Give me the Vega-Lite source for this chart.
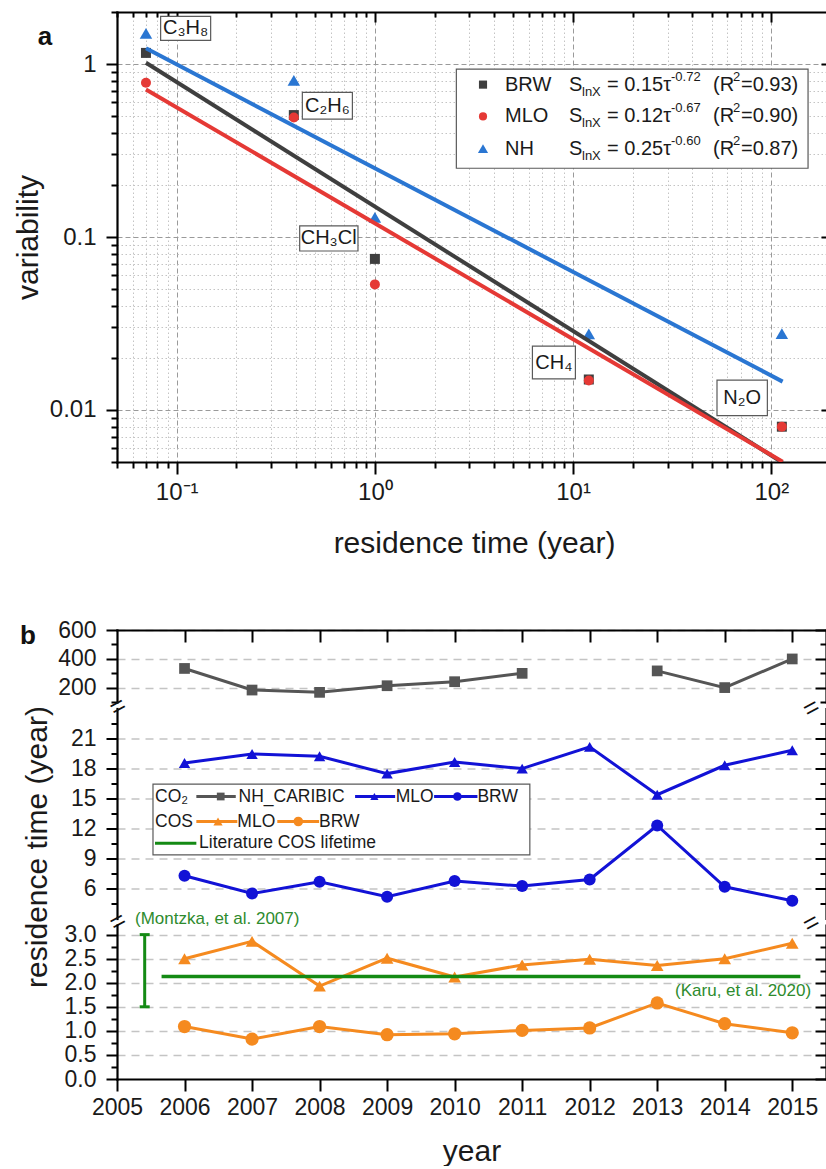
{
  "$schema": "https://vega.github.io/schema/vega-lite/v6.json",
  "background": "white",
  "padding": {"left": 13, "top": 0, "right": 0, "bottom": 0},
  "config": {
    "view": {"stroke": null},
    "font": "Liberation Sans",
    "text": {"font": "Liberation Sans"},
    "axis": {
      "labelFont": "Liberation Sans",
      "titleFont": "Liberation Sans",
      "labelColor": "#1a1a1a",
      "titleColor": "#1a1a1a",
      "titleFontWeight": "normal",
      "domainColor": "#000000",
      "tickColor": "#000000",
      "domainWidth": 2.2,
      "tickWidth": 2,
      "labelOverlap": false,
      "labelFlush": false,
      "domainCap": "square"
    }
  },
  "datasets": {
    "variability": [
      {"species": "C3H8", "tau": 0.07, "site": "BRW", "v": 1.16},
      {"species": "C2H6", "tau": 0.39, "site": "BRW", "v": 0.507},
      {"species": "CH3Cl", "tau": 1.0, "site": "BRW", "v": 0.0747},
      {"species": "CH4", "tau": 12, "site": "BRW", "v": 0.0150},
      {"species": "N2O", "tau": 113, "site": "BRW", "v": 0.0080},
      {"species": "C3H8", "tau": 0.07, "site": "MLO", "v": 0.78},
      {"species": "C2H6", "tau": 0.39, "site": "MLO", "v": 0.491},
      {"species": "CH3Cl", "tau": 1.0, "site": "MLO", "v": 0.0532},
      {"species": "CH4", "tau": 12, "site": "MLO", "v": 0.0148},
      {"species": "N2O", "tau": 113, "site": "MLO", "v": 0.0080},
      {"species": "C3H8", "tau": 0.07, "site": "NH", "v": 1.48},
      {"species": "C2H6", "tau": 0.39, "site": "NH", "v": 0.794},
      {"species": "CH3Cl", "tau": 1.0, "site": "NH", "v": 0.128},
      {"species": "CH4", "tau": 12, "site": "NH", "v": 0.0271},
      {"species": "N2O", "tau": 113, "site": "NH", "v": 0.0272}
    ],
    "fits": [
      {"site": "BRW", "tau": 0.07, "s": 1.0176},
      {"site": "BRW", "tau": 114, "s": 0.004956},
      {"site": "MLO", "tau": 0.07, "s": 0.7129},
      {"site": "MLO", "tau": 114, "s": 0.005024},
      {"site": "NH", "tau": 0.07, "s": 1.2328},
      {"site": "NH", "tau": 114, "s": 0.014583}
    ],
    "labels": [
      {"name": "C₃H₈", "x1": 0.0830, "x2": 0.1484, "y1": 1.889, "y2": 1.372, "xc": 0.1110, "yc": 1.61},
      {"name": "C₂H₆", "x1": 0.4305, "x2": 0.770, "y1": 0.686, "y2": 0.480, "xc": 0.576, "yc": 0.574},
      {"name": "CH₃Cl", "x1": 0.4174, "x2": 0.8217, "y1": 0.1159, "y2": 0.0830, "xc": 0.5845, "yc": 0.0981},
      {"name": "CH₄", "x1": 6.233, "x2": 10.27, "y1": 0.02339, "y2": 0.01512, "xc": 8.0, "yc": 0.0188},
      {"name": "N₂O", "x1": 53.2, "x2": 95.5, "y1": 0.01486, "y2": 0.00927, "xc": 71.3, "yc": 0.01173}
    ],
    "fitlegend": [
      {"site": "BRW", "ly": 0.7606, "eq": "= 0.15τ", "ex": "-0.72", "r2": "=0.93)"},
      {"site": "MLO", "ly": 0.498, "eq": "= 0.12τ", "ex": "-0.67", "r2": "=0.90)"},
      {"site": "NH", "ly": 0.3206, "eq": "= 0.25τ", "ex": "-0.60", "r2": "=0.87)"}
    ],
    "lifetimes": [
      {"year": 2006, "val": 333, "series": "CO2 NH_CARIBIC", "seg": "a"},
      {"year": 2007, "val": 183, "series": "CO2 NH_CARIBIC", "seg": "a"},
      {"year": 2008, "val": 167, "series": "CO2 NH_CARIBIC", "seg": "a"},
      {"year": 2009, "val": 213, "series": "CO2 NH_CARIBIC", "seg": "a"},
      {"year": 2010, "val": 241, "series": "CO2 NH_CARIBIC", "seg": "a"},
      {"year": 2011, "val": 299, "series": "CO2 NH_CARIBIC", "seg": "a"},
      {"year": 2013, "val": 316, "series": "CO2 NH_CARIBIC", "seg": "b"},
      {"year": 2014, "val": 200, "series": "CO2 NH_CARIBIC", "seg": "b"},
      {"year": 2015, "val": 399, "series": "CO2 NH_CARIBIC", "seg": "b"},
      {"year": 2006, "val": 18.55, "series": "CO2 MLO", "seg": "a"},
      {"year": 2007, "val": 19.45, "series": "CO2 MLO", "seg": "a"},
      {"year": 2008, "val": 19.22, "series": "CO2 MLO", "seg": "a"},
      {"year": 2009, "val": 17.49, "series": "CO2 MLO", "seg": "a"},
      {"year": 2010, "val": 18.65, "series": "CO2 MLO", "seg": "a"},
      {"year": 2011, "val": 17.99, "series": "CO2 MLO", "seg": "a"},
      {"year": 2012, "val": 20.16, "series": "CO2 MLO", "seg": "a"},
      {"year": 2013, "val": 15.38, "series": "CO2 MLO", "seg": "a"},
      {"year": 2014, "val": 18.32, "series": "CO2 MLO", "seg": "a"},
      {"year": 2015, "val": 19.83, "series": "CO2 MLO", "seg": "a"},
      {"year": 2006, "val": 7.27, "series": "CO2 BRW", "seg": "a"},
      {"year": 2007, "val": 5.5, "series": "CO2 BRW", "seg": "a"},
      {"year": 2008, "val": 6.67, "series": "CO2 BRW", "seg": "a"},
      {"year": 2009, "val": 5.17, "series": "CO2 BRW", "seg": "a"},
      {"year": 2010, "val": 6.74, "series": "CO2 BRW", "seg": "a"},
      {"year": 2011, "val": 6.24, "series": "CO2 BRW", "seg": "a"},
      {"year": 2012, "val": 6.9, "series": "CO2 BRW", "seg": "a"},
      {"year": 2013, "val": 12.3, "series": "CO2 BRW", "seg": "a"},
      {"year": 2014, "val": 6.17, "series": "CO2 BRW", "seg": "a"},
      {"year": 2015, "val": 4.77, "series": "CO2 BRW", "seg": "a"},
      {"year": 2006, "val": 2.5, "series": "COS MLO", "seg": "a"},
      {"year": 2007, "val": 2.86, "series": "COS MLO", "seg": "a"},
      {"year": 2008, "val": 1.93, "series": "COS MLO", "seg": "a"},
      {"year": 2009, "val": 2.51, "series": "COS MLO", "seg": "a"},
      {"year": 2010, "val": 2.12, "series": "COS MLO", "seg": "a"},
      {"year": 2011, "val": 2.37, "series": "COS MLO", "seg": "a"},
      {"year": 2012, "val": 2.49, "series": "COS MLO", "seg": "a"},
      {"year": 2013, "val": 2.36, "series": "COS MLO", "seg": "a"},
      {"year": 2014, "val": 2.5, "series": "COS MLO", "seg": "a"},
      {"year": 2015, "val": 2.82, "series": "COS MLO", "seg": "a"},
      {"year": 2006, "val": 1.09, "series": "COS BRW", "seg": "a"},
      {"year": 2007, "val": 0.83, "series": "COS BRW", "seg": "a"},
      {"year": 2008, "val": 1.09, "series": "COS BRW", "seg": "a"},
      {"year": 2009, "val": 0.92, "series": "COS BRW", "seg": "a"},
      {"year": 2010, "val": 0.94, "series": "COS BRW", "seg": "a"},
      {"year": 2011, "val": 1.01, "series": "COS BRW", "seg": "a"},
      {"year": 2012, "val": 1.06, "series": "COS BRW", "seg": "a"},
      {"year": 2013, "val": 1.58, "series": "COS BRW", "seg": "a"},
      {"year": 2014, "val": 1.15, "series": "COS BRW", "seg": "a"},
      {"year": 2015, "val": 0.96, "series": "COS BRW", "seg": "a"}
    ],
    "keysamples": [
      {"series": "CO2 NH_CARIBIC", "x1": 2006.175, "x2": 2006.759, "xm": 2006.536, "y": 15.2},
      {"series": "CO2 MLO", "x1": 2008.526, "x2": 2009.119, "xm": 2008.812, "y": 15.2},
      {"series": "CO2 BRW", "x1": 2009.696, "x2": 2010.338, "xm": 2010.041, "y": 15.2},
      {"series": "COS MLO", "x1": 2006.175, "x2": 2006.782, "xm": 2006.496, "y": 12.7},
      {"series": "COS BRW", "x1": 2007.374, "x2": 2007.993, "xm": 2007.685, "y": 12.7},
      {"series": "Literature", "x1": 2005.563, "x2": 2006.175, "xm": null, "y": 10.53}
    ],
    "keytext": [
      {"t": "CO₂", "x": 2005.563, "y": 15.2},
      {"t": "NH_CARIBIC", "x": 2006.80, "y": 15.2},
      {"t": "MLO", "x": 2009.128, "y": 15.2},
      {"t": "BRW", "x": 2010.338, "y": 15.2},
      {"t": "COS", "x": 2005.563, "y": 12.7},
      {"t": "MLO", "x": 2006.782, "y": 12.7},
      {"t": "BRW", "x": 2007.993, "y": 12.7},
      {"t": "Literature COS lifetime", "x": 2006.215, "y": 10.53}
    ]
  },
  "resolve": {"scale": {"color": "independent", "shape": "independent", "size": "independent", "x": "independent", "y": "independent"}},
  "spacing": 168,
  "bounds": "flush",
  "vconcat": [
    {
      "width": 714,
      "height": 450,
      "resolve": {"axis": {"x": "independent", "y": "independent"}, "scale": {"size": "independent"}},
      "layer": [
        {
          "data": {"name": "variability"},
          "mark": {"type": "point", "filled": true, "opacity": 1, "strokeWidth": 0, "size": 100},
          "encoding": {
            "x": {
              "field": "tau", "type": "quantitative",
              "scale": {"type": "log", "domain": [0.05, 200], "nice": false},
              "axis": {
                "orient": "bottom",
                "title": "residence time (year)",
                "values": [0.05, 0.06, 0.07, 0.08, 0.09, 0.1, 0.2, 0.3, 0.4, 0.5, 0.6, 0.7, 0.8, 0.9, 1, 2, 3, 4, 5, 6, 7, 8, 9, 10, 20, 30, 40, 50, 60, 70, 80, 90, 100, 200],
                "labelExpr": "datum.value > 0.09 && datum.value < 0.11 ? '10⁻¹' : datum.value > 0.9 && datum.value < 1.1 ? '10⁰' : datum.value > 9 && datum.value < 11 ? '10¹' : datum.value > 90 && datum.value < 110 ? '10²' : ''",
                "labelFontSize": 24,
                "labelPadding": 6,
                "tickSize": {"condition": {"test": "abs(log(datum.value)/LN10 - round(log(datum.value)/LN10)) < 0.001", "value": 12}, "value": 6},
                "grid": true,
                "gridWidth": 1,
                "gridColor": {"condition": {"test": "abs(log(datum.value)/LN10 - round(log(datum.value)/LN10)) < 0.001", "value": "#9a9a9a"}, "value": "#c4c4c4"},
                "gridDash": {"condition": {"test": "abs(log(datum.value)/LN10 - round(log(datum.value)/LN10)) < 0.001", "value": [5, 3]}, "value": [1.5, 2.5]},
                "titleFontSize": 30,
                "titleY": 90,
                "titleBaseline": "alphabetic"
              }
            },
            "y": {
              "field": "v", "type": "quantitative",
              "scale": {"type": "log", "domain": [0.005, 2], "nice": false},
              "axis": {
                "orient": "left",
                "title": "variability",
                "values": [0.005, 0.006, 0.007, 0.008, 0.009, 0.01, 0.02, 0.03, 0.04, 0.05, 0.06, 0.07, 0.08, 0.09, 0.1, 0.2, 0.3, 0.4, 0.5, 0.6, 0.7, 0.8, 0.9, 1, 2],
                "labelExpr": "datum.value > 0.0099 && datum.value < 0.0101 ? '0.01' : datum.value > 0.099 && datum.value < 0.101 ? '0.1' : datum.value > 0.99 && datum.value < 1.01 ? '1' : ''",
                "labelFontSize": 24,
                "labelPadding": 10,
                "tickSize": {"condition": {"test": "abs(log(datum.value)/LN10 - round(log(datum.value)/LN10)) < 0.001", "value": 11}, "value": 6},
                "grid": true,
                "gridWidth": 1,
                "gridColor": {"condition": {"test": "abs(log(datum.value)/LN10 - round(log(datum.value)/LN10)) < 0.001", "value": "#9a9a9a"}, "value": "#c4c4c4"},
                "gridDash": {"condition": {"test": "abs(log(datum.value)/LN10 - round(log(datum.value)/LN10)) < 0.001", "value": [5, 3]}, "value": [1.5, 2.5]},
                "titleFontSize": 30,
                "titleX": -80,
                "titleBaseline": "alphabetic"
              }
            },
            "color": {"field": "site", "type": "nominal", "scale": {"domain": ["BRW", "MLO", "NH"], "range": ["#3f3f3f", "#e53935", "#2a76d2"]}, "legend": null},
            "shape": {"field": "site", "type": "nominal", "scale": {"domain": ["BRW", "MLO", "NH"], "range": ["square", "circle", "M0,-1.3L1.25,0.85L-1.25,0.85Z"]}, "legend": null}
          }
        },
        {
          "data": {"name": "fits"},
          "mark": {"type": "line", "strokeWidth": 4, "clip": true},
          "encoding": {
            "x": {
              "field": "tau", "type": "quantitative",
              "scale": {"type": "log", "domain": [0.05, 200], "nice": false},
              "axis": {
                "orient": "top", "title": null, "labels": false, "grid": false,
                "values": [0.05, 0.06, 0.07, 0.08, 0.09, 0.1, 0.2, 0.3, 0.4, 0.5, 0.6, 0.7, 0.8, 0.9, 1, 2, 3, 4, 5, 6, 7, 8, 9, 10, 20, 30, 40, 50, 60, 70, 80, 90, 100, 200],
                "tickSize": {"condition": {"test": "abs(log(datum.value)/LN10 - round(log(datum.value)/LN10)) < 0.001", "value": -10}, "value": -5}
              }
            },
            "y": {
              "field": "s", "type": "quantitative",
              "scale": {"type": "log", "domain": [0.005, 2], "nice": false},
              "axis": {
                "orient": "right", "title": null, "labels": false, "grid": false,
                "values": [0.005, 0.006, 0.007, 0.008, 0.009, 0.01, 0.02, 0.03, 0.04, 0.05, 0.06, 0.07, 0.08, 0.09, 0.1, 0.2, 0.3, 0.4, 0.5, 0.6, 0.7, 0.8, 0.9, 1, 2],
                "tickSize": {"condition": {"test": "abs(log(datum.value)/LN10 - round(log(datum.value)/LN10)) < 0.001", "value": -10}, "value": -5}
              }
            },
            "color": {"field": "site", "type": "nominal", "scale": {"domain": ["BRW", "MLO", "NH"], "range": ["#3f3f3f", "#e53935", "#2a76d2"]}, "legend": null}
          }
        },
        {
          "data": {"name": "labels"},
          "mark": {"type": "rect", "fill": "white", "stroke": "#5a5a5a", "strokeWidth": 1.2},
          "encoding": {
            "x": {"field": "x1", "type": "quantitative", "axis": null},
            "x2": {"field": "x2"},
            "y": {"field": "y1", "type": "quantitative", "axis": null},
            "y2": {"field": "y2"}
          }
        },
        {
          "data": {"name": "labels"},
          "mark": {"type": "text", "fontSize": 20, "align": "center", "baseline": "middle", "color": "#1a1a1a", "font": "Liberation Sans, DejaVu Sans"},
          "encoding": {
            "x": {"field": "xc", "type": "quantitative", "axis": null},
            "y": {"field": "yc", "type": "quantitative", "axis": null},
            "text": {"field": "name"}
          }
        },
        {
          "data": {"values": [{"box": "fit legend"}]},
          "mark": {"type": "rect", "fill": "white", "stroke": "#5a5a5a", "strokeWidth": 1.2},
          "encoding": {
            "x": {"datum": 2.576, "type": "quantitative", "axis": null},
            "x2": {"datum": 153.2},
            "y": {"datum": 0.9356, "type": "quantitative", "axis": null},
            "y2": {"datum": 0.2498}
          }
        },
        {
          "data": {"name": "fitlegend"},
          "mark": {"type": "point", "filled": true, "opacity": 1, "strokeWidth": 0, "size": 66},
          "encoding": {
            "x": {"datum": 3.511, "type": "quantitative", "axis": null},
            "y": {"field": "ly", "type": "quantitative", "axis": null},
            "color": {"field": "site", "type": "nominal", "scale": {"domain": ["BRW", "MLO", "NH"], "range": ["#3f3f3f", "#e53935", "#2a76d2"]}, "legend": null},
            "shape": {"field": "site", "type": "nominal", "scale": {"domain": ["BRW", "MLO", "NH"], "range": ["square", "circle", "M0,-1.3L1.25,0.85L-1.25,0.85Z"]}, "legend": null}
          }
        },
        {
          "data": {"name": "fitlegend"},
          "mark": {"type": "text", "fontSize": 20, "align": "left", "baseline": "middle", "dx": 22, "color": "#1a1a1a"},
          "encoding": {
            "x": {"datum": 3.511, "type": "quantitative", "axis": null},
            "y": {"field": "ly", "type": "quantitative", "axis": null},
            "text": {"field": "site"}
          }
        },
        {
          "data": {"name": "fitlegend"},
          "mark": {"type": "text", "fontSize": 20, "align": "left", "baseline": "middle", "dx": 86, "color": "#1a1a1a"},
          "encoding": {
            "x": {"datum": 3.511, "type": "quantitative", "axis": null},
            "y": {"field": "ly", "type": "quantitative", "axis": null},
            "text": {"value": "S"}
          }
        },
        {
          "data": {"name": "fitlegend"},
          "mark": {"type": "text", "fontSize": 13, "align": "left", "baseline": "middle", "dx": 99, "dy": 7, "color": "#1a1a1a"},
          "encoding": {
            "x": {"datum": 3.511, "type": "quantitative", "axis": null},
            "y": {"field": "ly", "type": "quantitative", "axis": null},
            "text": {"value": "lnX"}
          }
        },
        {
          "data": {"name": "fitlegend"},
          "mark": {"type": "text", "fontSize": 20, "align": "left", "baseline": "middle", "dx": 124, "color": "#1a1a1a"},
          "encoding": {
            "x": {"datum": 3.511, "type": "quantitative", "axis": null},
            "y": {"field": "ly", "type": "quantitative", "axis": null},
            "text": {"field": "eq"}
          }
        },
        {
          "data": {"name": "fitlegend"},
          "mark": {"type": "text", "fontSize": 13, "align": "left", "baseline": "middle", "dx": 188, "dy": -8, "color": "#1a1a1a"},
          "encoding": {
            "x": {"datum": 3.511, "type": "quantitative", "axis": null},
            "y": {"field": "ly", "type": "quantitative", "axis": null},
            "text": {"field": "ex"}
          }
        },
        {
          "data": {"name": "fitlegend"},
          "mark": {"type": "text", "fontSize": 20, "align": "left", "baseline": "middle", "dx": 230, "color": "#1a1a1a"},
          "encoding": {
            "x": {"datum": 3.511, "type": "quantitative", "axis": null},
            "y": {"field": "ly", "type": "quantitative", "axis": null},
            "text": {"value": "(R"}
          }
        },
        {
          "data": {"name": "fitlegend"},
          "mark": {"type": "text", "fontSize": 13, "align": "left", "baseline": "middle", "dx": 250, "dy": -8, "color": "#1a1a1a"},
          "encoding": {
            "x": {"datum": 3.511, "type": "quantitative", "axis": null},
            "y": {"field": "ly", "type": "quantitative", "axis": null},
            "text": {"value": "2"}
          }
        },
        {
          "data": {"name": "fitlegend"},
          "mark": {"type": "text", "fontSize": 20, "align": "left", "baseline": "middle", "dx": 258, "color": "#1a1a1a"},
          "encoding": {
            "x": {"datum": 3.511, "type": "quantitative", "axis": null},
            "y": {"field": "ly", "type": "quantitative", "axis": null},
            "text": {"field": "r2"}
          }
        },
        {
          "data": {"values": [{"t": "a"}]},
          "mark": {"type": "text", "fontSize": 26, "fontWeight": "bold", "align": "center", "baseline": "middle", "dx": -72, "color": "#111111"},
          "encoding": {
            "x": {"datum": 0.05, "type": "quantitative", "axis": null},
            "y": {"datum": 1.437, "type": "quantitative", "axis": null},
            "text": {"field": "t"}
          }
        }
      ]
    },
    {
      "spacing": 6.5,
      "bounds": "flush",
      "resolve": {"scale": {"color": "independent", "shape": "independent", "size": "independent", "x": "independent", "y": "independent"}},
      "vconcat": [
        {
          "width": 709,
          "height": 72,
          "data": {"name": "lifetimes"},
          "resolve": {"axis": {"x": "independent", "y": "independent"}},
          "layer": [
            {
              "transform": [{"filter": "datum.series == 'CO2 NH_CARIBIC'"}],
              "mark": {"type": "line", "strokeWidth": 3},
              "encoding": {
                "x": {
                  "field": "year", "type": "quantitative",
                  "scale": {"domain": [2005, 2015.5], "nice": false, "zero": false},
                  "axis": {"orient": "top", "title": null, "labels": false, "grid": false, "values": [2006, 2007, 2008, 2009, 2010, 2011, 2012, 2013, 2014, 2015], "tickSize": -12}
                },
                "y": {
                  "field": "val", "type": "quantitative",
                  "scale": {"domain": [100, 600], "nice": false, "zero": false},
                  "axis": {
                    "orient": "left", "title": null,
                    "values": [100, 200, 300, 400, 500, 600],
                    "labelExpr": "datum.value % 200 == 0 ? datum.label : ''",
                    "labelFontSize": 23, "labelPadding": 10,
                    "tickSize": {"condition": {"test": "datum.value % 200 == 0", "value": 11}, "value": 6},
                    "grid": true, "gridColor": "#c4c4c4", "gridWidth": 1.5, "gridDash": [8, 6],
                    "gridOpacity": {"condition": {"test": "datum.value % 200 == 0", "value": 1}, "value": 0}
                  }
                },
                "color": {"field": "series", "type": "nominal", "scale": {"domain": ["CO2 NH_CARIBIC", "CO2 MLO", "CO2 BRW", "COS MLO", "COS BRW", "Literature"], "range": ["#555555", "#1212d6", "#1212d6", "#f58a1f", "#f58a1f", "#148a14"]}, "legend": null},
                "detail": {"field": "seg"}
              }
            },
            {
              "transform": [{"filter": "datum.series == 'CO2 NH_CARIBIC'"}],
              "mark": {"type": "point", "filled": true, "opacity": 1, "size": 115, "strokeWidth": 0},
              "encoding": {
                "x": {"field": "year", "type": "quantitative", "scale": {"domain": [2005, 2015.5], "nice": false, "zero": false}, "axis": null},
                "y": {
                  "field": "val", "type": "quantitative",
                  "scale": {"domain": [100, 600], "nice": false, "zero": false},
                  "axis": {
                    "orient": "right", "title": null, "labels": false, "grid": false,
                    "values": [100, 200, 300, 400, 500, 600],
                    "tickSize": {"condition": {"test": "datum.value % 200 == 0", "value": -11}, "value": -6}
                  }
                },
                "color": {"field": "series", "type": "nominal", "scale": {"domain": ["CO2 NH_CARIBIC", "CO2 MLO", "CO2 BRW", "COS MLO", "COS BRW", "Literature"], "range": ["#555555", "#1212d6", "#1212d6", "#f58a1f", "#f58a1f", "#148a14"]}, "legend": null},
                "shape": {"field": "series", "type": "nominal", "scale": {"domain": ["CO2 NH_CARIBIC", "CO2 MLO", "CO2 BRW", "COS MLO", "COS BRW", "Literature"], "range": ["square", "triangle-up", "circle", "triangle-up", "circle", "circle"]}, "legend": null}
              }
            },
            {
              "data": {"values": [{"t": "b"}]},
              "mark": {"type": "text", "fontSize": 26, "fontWeight": "bold", "align": "center", "baseline": "middle", "dx": -89, "color": "#111111"},
              "encoding": {
                "x": {"datum": 2005, "type": "quantitative", "axis": null},
                "y": {"datum": 558, "type": "quantitative", "axis": null},
                "text": {"field": "t"}
              }
            }
          ]
        },
        {
          "width": 709,
          "height": 210,
          "data": {"name": "lifetimes"},
          "resolve": {"axis": {"x": "independent", "y": "independent"}, "scale": {"size": "independent"}},
          "layer": [
            {
              "transform": [{"filter": "datum.series == 'CO2 MLO' || datum.series == 'CO2 BRW'"}],
              "mark": {"type": "line", "strokeWidth": 3},
              "encoding": {
                "x": {"field": "year", "type": "quantitative", "scale": {"domain": [2005, 2015.5], "nice": false, "zero": false}, "axis": null},
                "y": {
                  "field": "val", "type": "quantitative",
                  "scale": {"domain": [3, 24], "nice": false, "zero": false},
                  "axis": {
                    "orient": "left",
                    "title": "residence time (year)",
                    "titleFontSize": 30, "titleX": -71, "titleY": 138, "titleAlign": "center", "titleBaseline": "alphabetic",
                    "values": [4.5, 6, 7.5, 9, 10.5, 12, 13.5, 15, 16.5, 18, 19.5, 21, 22.5],
                    "labelExpr": "datum.value % 3 == 0 ? datum.label : ''",
                    "labelFontSize": 23, "labelPadding": 10,
                    "tickSize": {"condition": {"test": "datum.value % 3 == 0", "value": 11}, "value": 6},
                    "grid": true, "gridColor": "#c4c4c4", "gridWidth": 1.5, "gridDash": [8, 6],
                    "gridOpacity": {"condition": {"test": "datum.value % 3 == 0", "value": 1}, "value": 0}
                  }
                },
                "color": {"field": "series", "type": "nominal", "scale": {"domain": ["CO2 NH_CARIBIC", "CO2 MLO", "CO2 BRW", "COS MLO", "COS BRW", "Literature"], "range": ["#555555", "#1212d6", "#1212d6", "#f58a1f", "#f58a1f", "#148a14"]}, "legend": null}
              }
            },
            {
              "transform": [{"filter": "datum.series == 'CO2 MLO' || datum.series == 'CO2 BRW'"}],
              "mark": {"type": "point", "filled": true, "opacity": 1, "strokeWidth": 0},
              "encoding": {
                "x": {"field": "year", "type": "quantitative", "scale": {"domain": [2005, 2015.5], "nice": false, "zero": false}, "axis": null},
                "y": {
                  "field": "val", "type": "quantitative",
                  "scale": {"domain": [3, 24], "nice": false, "zero": false},
                  "axis": {
                    "orient": "right", "title": null, "labels": false, "grid": false,
                    "values": [4.5, 6, 7.5, 9, 10.5, 12, 13.5, 15, 16.5, 18, 19.5, 21, 22.5],
                    "tickSize": {"condition": {"test": "datum.value % 3 == 0", "value": -11}, "value": -6}
                  }
                },
                "color": {"field": "series", "type": "nominal", "scale": {"domain": ["CO2 NH_CARIBIC", "CO2 MLO", "CO2 BRW", "COS MLO", "COS BRW", "Literature"], "range": ["#555555", "#1212d6", "#1212d6", "#f58a1f", "#f58a1f", "#148a14"]}, "legend": null},
                "shape": {"field": "series", "type": "nominal", "scale": {"domain": ["CO2 NH_CARIBIC", "CO2 MLO", "CO2 BRW", "COS MLO", "COS BRW", "Literature"], "range": ["square", "triangle-up", "circle", "triangle-up", "circle", "circle"]}, "legend": null},
                "size": {"field": "series", "type": "nominal", "scale": {"domain": ["CO2 NH_CARIBIC", "CO2 MLO", "CO2 BRW", "COS MLO", "COS BRW", "Literature"], "range": [115, 190, 115, 190, 115, 115]}, "legend": null}
              }
            },
            {
              "data": {"values": [{"box": "series key"}]},
              "mark": {"type": "rect", "fill": "white", "stroke": "#5a5a5a", "strokeWidth": 1.2},
              "encoding": {
                "x": {"datum": 2005.533, "type": "quantitative", "axis": null},
                "x2": {"datum": 2011.114},
                "y": {"datum": 16.43, "type": "quantitative", "axis": null},
                "y2": {"datum": 9.37}
              }
            },
            {
              "data": {"name": "keysamples"},
              "mark": {"type": "rule", "strokeWidth": 3},
              "encoding": {
                "x": {"field": "x1", "type": "quantitative", "axis": null},
                "x2": {"field": "x2"},
                "y": {"field": "y", "type": "quantitative", "axis": null},
                "color": {"field": "series", "type": "nominal", "scale": {"domain": ["CO2 NH_CARIBIC", "CO2 MLO", "CO2 BRW", "COS MLO", "COS BRW", "Literature"], "range": ["#555555", "#1212d6", "#1212d6", "#f58a1f", "#f58a1f", "#148a14"]}, "legend": null}
              }
            },
            {
              "data": {"name": "keysamples"},
              "transform": [{"filter": "isValid(datum.xm)"}],
              "mark": {"type": "point", "filled": true, "opacity": 1, "strokeWidth": 0},
              "encoding": {
                "x": {"field": "xm", "type": "quantitative", "axis": null},
                "y": {"field": "y", "type": "quantitative", "axis": null},
                "color": {"field": "series", "type": "nominal", "scale": {"domain": ["CO2 NH_CARIBIC", "CO2 MLO", "CO2 BRW", "COS MLO", "COS BRW", "Literature"], "range": ["#555555", "#1212d6", "#1212d6", "#f58a1f", "#f58a1f", "#148a14"]}, "legend": null},
                "shape": {"field": "series", "type": "nominal", "scale": {"domain": ["CO2 NH_CARIBIC", "CO2 MLO", "CO2 BRW", "COS MLO", "COS BRW", "Literature"], "range": ["square", "triangle-up", "circle", "triangle-up", "circle", "circle"]}, "legend": null},
                "size": {"field": "series", "type": "nominal", "scale": {"domain": ["CO2 NH_CARIBIC", "CO2 MLO", "CO2 BRW", "COS MLO", "COS BRW", "Literature"], "range": [60, 100, 65, 100, 65, 65]}, "legend": null}
              }
            },
            {
              "data": {"name": "keytext"},
              "mark": {"type": "text", "fontSize": 17.5, "align": "left", "baseline": "middle", "color": "#1a1a1a", "font": "Liberation Sans, DejaVu Sans"},
              "encoding": {
                "x": {"field": "x", "type": "quantitative", "axis": null},
                "y": {"field": "y", "type": "quantitative", "axis": null},
                "text": {"field": "t"}
              }
            },
            {
              "data": {"values": [{"bx": 2005, "by": 24.35}, {"bx": 2005, "by": 2.85}, {"bx": 2015.27, "by": 24.2}, {"bx": 2015.27, "by": 2.7}]},
              "mark": {"type": "text", "fontSize": 26, "align": "center", "baseline": "middle", "angle": -28, "color": "#111111", "dy": 2},
              "encoding": {
                "x": {"field": "bx", "type": "quantitative", "axis": null},
                "y": {"field": "by", "type": "quantitative", "axis": null},
                "text": {"value": "="}
              }
            }
          ]
        },
        {
          "width": 709,
          "height": 154,
          "data": {"name": "lifetimes"},
          "resolve": {"axis": {"x": "independent", "y": "independent"}},
          "layer": [
            {
              "transform": [{"filter": "datum.series == 'COS MLO' || datum.series == 'COS BRW'"}],
              "mark": {"type": "line", "strokeWidth": 3},
              "encoding": {
                "x": {
                  "field": "year", "type": "quantitative",
                  "scale": {"domain": [2005, 2015.5], "nice": false, "zero": false},
                  "axis": {
                    "orient": "bottom", "title": "year", "format": "d",
                    "values": [2005, 2006, 2007, 2008, 2009, 2010, 2011, 2012, 2013, 2014, 2015],
                    "labelFontSize": 23, "labelPadding": 5, "tickSize": 12, "grid": false,
                    "titleFontSize": 30, "titleY": 81, "titleBaseline": "alphabetic"
                  }
                },
                "y": {
                  "field": "val", "type": "quantitative",
                  "scale": {"domain": [0, 3.2], "nice": false, "zero": false},
                  "axis": {
                    "orient": "left", "title": null,
                    "values": [0, 0.25, 0.5, 0.75, 1, 1.25, 1.5, 1.75, 2, 2.25, 2.5, 2.75, 3],
                    "labelExpr": "abs(datum.value*2 - round(datum.value*2)) < 0.001 ? format(datum.value, '.1f') : ''",
                    "labelFontSize": 23, "labelPadding": 10,
                    "tickSize": {"condition": {"test": "abs(datum.value*2 - round(datum.value*2)) < 0.001", "value": 11}, "value": 6},
                    "grid": true, "gridColor": "#c4c4c4", "gridWidth": 1.5, "gridDash": [8, 6],
                    "gridOpacity": {"condition": {"test": "abs(datum.value*2 - round(datum.value*2)) < 0.001 && datum.value > 0", "value": 1}, "value": 0}
                  }
                },
                "color": {"field": "series", "type": "nominal", "scale": {"domain": ["CO2 NH_CARIBIC", "CO2 MLO", "CO2 BRW", "COS MLO", "COS BRW", "Literature"], "range": ["#555555", "#1212d6", "#1212d6", "#f58a1f", "#f58a1f", "#148a14"]}, "legend": null}
              }
            },
            {
              "transform": [{"filter": "datum.series == 'COS MLO' || datum.series == 'COS BRW'"}],
              "mark": {"type": "point", "filled": true, "opacity": 1, "strokeWidth": 0},
              "encoding": {
                "x": {"field": "year", "type": "quantitative", "scale": {"domain": [2005, 2015.5], "nice": false, "zero": false}, "axis": null},
                "y": {
                  "field": "val", "type": "quantitative",
                  "scale": {"domain": [0, 3.2], "nice": false, "zero": false},
                  "axis": {
                    "orient": "right", "title": null, "labels": false, "grid": false,
                    "values": [0, 0.25, 0.5, 0.75, 1, 1.25, 1.5, 1.75, 2, 2.25, 2.5, 2.75, 3],
                    "tickSize": {"condition": {"test": "abs(datum.value*2 - round(datum.value*2)) < 0.001", "value": -11}, "value": -6}
                  }
                },
                "color": {"field": "series", "type": "nominal", "scale": {"domain": ["CO2 NH_CARIBIC", "CO2 MLO", "CO2 BRW", "COS MLO", "COS BRW", "Literature"], "range": ["#555555", "#1212d6", "#1212d6", "#f58a1f", "#f58a1f", "#148a14"]}, "legend": null},
                "shape": {"field": "series", "type": "nominal", "scale": {"domain": ["CO2 NH_CARIBIC", "CO2 MLO", "CO2 BRW", "COS MLO", "COS BRW", "Literature"], "range": ["square", "triangle-up", "circle", "triangle-up", "circle", "circle"]}, "legend": null},
                "size": {"field": "series", "type": "nominal", "scale": {"domain": ["CO2 NH_CARIBIC", "CO2 MLO", "CO2 BRW", "COS MLO", "COS BRW", "Literature"], "range": [115, 190, 115, 190, 115, 115]}, "legend": null}
              }
            },
            {
              "data": {"values": [{"ref": "Karu, et al. 2020", "x1": 2005.66, "x2": 2015.12, "life": 2.13}]},
              "mark": {"type": "rule", "strokeWidth": 3.5, "color": "#148a14"},
              "encoding": {
                "x": {"field": "x1", "type": "quantitative", "axis": null},
                "x2": {"field": "x2"},
                "y": {"field": "life", "type": "quantitative", "axis": null}
              }
            },
            {
              "data": {"values": [{"ref": "Montzka, et al. 2007", "x": 2005.41, "lo": 1.5, "hi": 3.0}]},
              "mark": {"type": "rule", "strokeWidth": 3, "color": "#148a14"},
              "encoding": {
                "x": {"field": "x", "type": "quantitative", "axis": null},
                "y": {"field": "lo", "type": "quantitative", "axis": null},
                "y2": {"field": "hi"}
              }
            },
            {
              "data": {"values": [{"x": 2005.41, "v": 1.5}, {"x": 2005.41, "v": 3.0}]},
              "mark": {"type": "tick", "orient": "horizontal", "size": 10, "thickness": 3, "color": "#148a14", "opacity": 1},
              "encoding": {
                "x": {"field": "x", "type": "quantitative", "axis": null},
                "y": {"field": "v", "type": "quantitative", "axis": null}
              }
            },
            {
              "data": {"values": [{"t": "(Montzka, et al. 2007)", "x": 2005.267, "y": 3.325}]},
              "mark": {"type": "text", "fontSize": 17, "align": "left", "baseline": "middle", "color": "#2e8b2e"},
              "encoding": {
                "x": {"field": "x", "type": "quantitative", "axis": null},
                "y": {"field": "y", "type": "quantitative", "axis": null},
                "text": {"field": "t"}
              }
            },
            {
              "data": {"values": [{"t": "(Karu, et al. 2020)", "x": 2015.28, "y": 1.828}]},
              "mark": {"type": "text", "fontSize": 17, "align": "right", "baseline": "middle", "color": "#2e8b2e"},
              "encoding": {
                "x": {"field": "x", "type": "quantitative", "axis": null},
                "y": {"field": "y", "type": "quantitative", "axis": null},
                "text": {"field": "t"}
              }
            }
          ]
        }
      ]
    }
  ]
}
